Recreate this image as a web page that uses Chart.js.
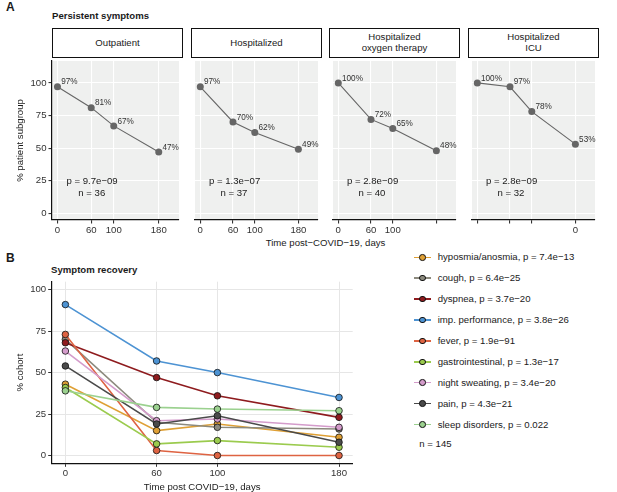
<!DOCTYPE html>
<html><head><meta charset="utf-8">
<script src="https://cdn.jsdelivr.net/npm/chart.js@4.4.1/dist/chart.umd.min.js"></script>
<style>
body{margin:0;background:#fff;font-family:"Liberation Sans",Arial,sans-serif;}
#wrap{position:relative;width:617px;height:492px;overflow:hidden;background:#fff;}
.t{position:absolute;white-space:nowrap;color:#1a1a1a;}
canvas{position:absolute;}
.strip{position:absolute;box-sizing:border-box;border:1.4px solid #111;background:#fff;display:flex;align-items:center;justify-content:center;text-align:center;font-size:9.6px;line-height:10.7px;color:#1a1a1a;}
.leg{position:absolute;font-size:9.6px;color:#1a1a1a;white-space:nowrap;}
.legline{position:absolute;width:17px;height:1.6px;}
.legdot{position:absolute;width:6.6px;height:6.6px;border-radius:50%;box-sizing:border-box;border:0.9px solid #111;}
</style></head>
<body><div id="wrap">
<div class="t" style="left:6px;top:0px;font-size:12px;font-weight:bold;">A</div>
<div class="t" style="left:52px;top:10px;font-size:9.6px;font-weight:bold;">Persistent symptoms</div>
<div class="t" style="left:6px;top:251px;font-size:12px;font-weight:bold;">B</div>
<div class="t" style="left:51px;top:264px;font-size:9.6px;font-weight:bold;">Symptom recovery</div>
<div class="t" id="xtitleA" style="top:237px;font-size:9.6px;">Time post−COVID−19, days</div>
</div>
<script>
// ---------- DATA ----------
const days = [0, 60, 100, 180];
const groupNames = ['Outpatient', 'Hospitalized', 'Hospitalized\noxygen therapy', 'Hospitalized\nICU'];
const persistOutpatient = [97, 81, 67, 47];
const persistHospitalized = [97, 70, 62, 49];
const persistOxygen = [100, 72, 65, 48];
const persistICU = [100, 97, 78, 53];
const pValuesA = ['9.7e−09', '1.3e−07', '2.8e−09', '2.8e−09'];
const nValuesA = [36, 37, 40, 32];
const xTickLabelsA = [['0', '60', '100', '180'], ['0', '60', '100', '180'], ['0', '60', '100', ''], ['', '', '', '0']];
const yTicks = [0, 25, 50, 75, 100];

const symptoms = ['hyposmia/anosmia', 'cough', 'dyspnea', 'imp. performance', 'fever', 'gastrointestinal', 'night sweating', 'pain', 'sleep disorders'];
const pValuesB = ['7.4e−13', '6.4e−25', '3.7e−20', '3.8e−26', '1.9e−91', '1.3e−17', '3.4e−20', '4.3e−21', '0.022'];
const hyposmia = [43, 15, 19, 11];
const cough = [70, 20, 17, 16];
const dyspnea = [68, 47, 36, 23];
const impPerformance = [91, 57, 50, 35];
const fever = [73, 3, 0, 0];
const gastrointestinal = [41, 7, 9, 5];
const nightSweating = [63, 21, 22, 17];
const pain = [54, 19, 24, 8];
const sleepDisorders = [39, 29, 28, 27];
const nCohort = 145;

// ---------- STYLE / LAYOUT ----------
const persistA = [persistOutpatient, persistHospitalized, persistOxygen, persistICU];
const recovery = [hyposmia, cough, dyspnea, impPerformance, fever, gastrointestinal, nightSweating, pain, sleepDisorders];
const colorsB = ['#DFA035', '#8C8A7E', '#8E1B1E', '#4D93D3', '#DE6342', '#9BCB4E', '#D49CCB', '#4A4A4A', '#9BD18F'];
const FONT = '"Liberation Sans", Arial, sans-serif';
Chart.defaults.font.family = FONT;
Chart.defaults.font.size = 9.6;
Chart.defaults.color = '#333';

const wrap = document.getElementById('wrap');
const panelLeft = [52, 191, 329, 468];
const panelW = 131;

function mkCanvas(l, t, w, h) {
  const c = document.createElement('canvas');
  c.width = w; c.height = h;
  c.style.left = l + 'px'; c.style.top = t + 'px';
  c.style.width = w + 'px'; c.style.height = h + 'px';
  wrap.appendChild(c);
  return c;
}
const bgPlugin = color => ({
  id: 'bg',
  beforeDraw(chart) {
    const { ctx, chartArea: a } = chart;
    ctx.save(); ctx.fillStyle = color;
    ctx.fillRect(a.left, a.top, a.right - a.left, a.bottom - a.top);
    ctx.restore();
  }
});

// x title of panel A
const xt = document.getElementById('xtitleA');
xt.style.left = ((panelLeft[0] + panelLeft[3] + panelW) / 2) + 'px';
xt.style.transform = 'translateX(-50%)';

// ---------- PANEL A ----------
groupNames.forEach((name, i) => {
  const left = panelLeft[i];
  const strip = document.createElement('div');
  strip.className = 'strip';
  strip.style.left = left + 'px'; strip.style.top = '28px';
  strip.style.width = panelW + 'px'; strip.style.height = '30px';
  strip.innerHTML = name.split('\n').join('<br>');
  wrap.appendChild(strip);

  const cLeft = i === 0 ? 0 : left;
  const w = left + panelW - cLeft;
  const cv = mkCanvas(cLeft, 57, w, 185);
  const labelPlugin = {
    id: 'lab',
    afterDatasetsDraw(chart) {
      const ctx = chart.ctx;
      const meta = chart.getDatasetMeta(0);
      ctx.save();
      ctx.fillStyle = '#333';
      ctx.textBaseline = 'middle'; ctx.textAlign = 'left';
      ctx.font = '8.2px ' + FONT;
      meta.data.forEach((pt, k) => ctx.fillText(persistA[i][k] + '%', pt.x + 3.7, pt.y - 4.6));
      const xs = chart.scales.x, ys = chart.scales.y;
      ctx.font = '9.6px ' + FONT;
      ctx.fillStyle = '#1a1a1a';
      ctx.fillText('p = ' + pValuesA[i], xs.getPixelForValue(16), ys.getPixelForValue(24.2));
      ctx.fillText('n = ' + nValuesA[i], xs.getPixelForValue(37), ys.getPixelForValue(15));
      ctx.restore();
    }
  };
  new Chart(cv, {
    type: 'line',
    data: { datasets: [{
      data: days.map((d, k) => ({ x: d, y: persistA[i][k] })),
      borderColor: '#666', backgroundColor: '#666', pointBackgroundColor: '#666',
      pointBorderWidth: 0, pointRadius: 3.5, borderWidth: 1.1, clip: false
    }] },
    options: {
      responsive: false, animation: false, events: [],
      layout: { padding: 0 },
      plugins: { legend: { display: false }, tooltip: { enabled: false } },
      scales: {
        x: {
          type: 'linear', min: -9.7, max: 216,
          afterBuildTicks: s => { s.ticks = days.map(v => ({ value: v })); },
          ticks: { callback: (v, idx) => xTickLabelsA[i][idx], autoSkip: false, maxRotation: 0, padding: 1, color: '#333' },
          grid: { color: '#fff', lineWidth: 1.1, tickColor: '#333', tickLength: 3.5 },
          border: { display: true, color: '#111', width: 1.2 },
          afterFit: s => { s.height = 22; s.paddingLeft = 0; s.paddingRight = 0; }
        },
        y: {
          type: 'linear', min: -5.2, max: 116.8,
          afterBuildTicks: s => { s.ticks = yTicks.map(v => ({ value: v })); },
          ticks: { display: i === 0, padding: 2, color: '#333' },
          grid: { color: '#fff', lineWidth: 1.1, tickColor: '#333', tickLength: 3.5, drawTicks: i === 0 },
          border: { display: i === 0, color: '#111', width: 1.2 },
          title: { display: i === 0, text: '% patient subgroup', padding: { top: 15, bottom: 0 }, color: '#1a1a1a' },
          afterFit: s => { s.width = i === 0 ? 52 : 0; s.paddingTop = 0; s.paddingBottom = 0; }
        }
      }
    },
    plugins: [bgPlugin('#EFF0EF'), labelPlugin]
  });
});

// ---------- PANEL B ----------
const cvB = mkCanvas(0, 275, 360, 217);
new Chart(cvB, {
  type: 'line',
  data: { datasets: symptoms.map((name, i) => ({
    label: name + ', p = ' + pValuesB[i],
    data: days.map((d, k) => ({ x: d, y: recovery[i][k] })),
    borderColor: colorsB[i], backgroundColor: colorsB[i], pointBackgroundColor: colorsB[i],
    pointBorderColor: '#111', pointBorderWidth: 0.8, pointRadius: 3.3, borderWidth: 1.6,
    order: symptoms.length - 1 - i, clip: false
  })) },
  options: {
    responsive: false, animation: false, events: [],
    layout: { padding: { top: 6.7, right: 7.3, left: 0, bottom: 0 } },
    plugins: { legend: { display: false }, tooltip: { enabled: false } },
    scales: {
      x: {
        type: 'linear', min: -9, max: 189,
        afterBuildTicks: s => { s.ticks = days.map(v => ({ value: v })); },
        ticks: { callback: v => String(v), autoSkip: false, maxRotation: 0, padding: 1, color: '#333' },
        grid: { color: '#E6E6E6', lineWidth: 1, tickColor: '#333', tickLength: 3.5 },
        border: { display: true, color: '#111', width: 1.2 },
        title: { display: true, text: 'Time post COVID−19, days', padding: 0, color: '#1a1a1a', font: { size: 9.6, lineHeight: 1 } },
        afterFit: s => { s.height = 28.7; s.paddingLeft = 0; s.paddingRight = 0; }
      },
      y: {
        type: 'linear', min: -4.7, max: 104.8,
        afterBuildTicks: s => { s.ticks = yTicks.map(v => ({ value: v })); },
        ticks: { padding: 2, color: '#333' },
        grid: { color: '#E6E6E6', lineWidth: 1, tickColor: '#333', tickLength: 3.5 },
        border: { display: true, color: '#111', width: 1.2 },
        title: { display: true, text: '% cohort', padding: { top: 15, bottom: 0 }, color: '#1a1a1a' },
        afterFit: s => { s.width = 51.7; s.paddingTop = 0; s.paddingBottom = 0; }
      }
    }
  }
});

// legend for panel B
symptoms.forEach((name, i) => {
  const cy = 257.3 + i * 20.9;
  const line = document.createElement('div');
  line.className = 'legline';
  line.style.left = '414px'; line.style.top = (cy - 0.8) + 'px';
  line.style.background = colorsB[i];
  wrap.appendChild(line);
  const dot = document.createElement('div');
  dot.className = 'legdot';
  dot.style.left = (422.5 - 3.3) + 'px'; dot.style.top = (cy - 3.3) + 'px';
  dot.style.background = colorsB[i];
  wrap.appendChild(dot);
  const tx = document.createElement('div');
  tx.className = 'leg';
  tx.style.left = '437.7px'; tx.style.top = (cy - 6) + 'px';
  tx.textContent = name + ', p = ' + pValuesB[i];
  wrap.appendChild(tx);
});
const nTxt = document.createElement('div');
nTxt.className = 'leg';
nTxt.style.left = '419.3px'; nTxt.style.top = (444 - 6) + 'px';
nTxt.textContent = 'n = ' + nCohort;
wrap.appendChild(nTxt);
</script>
</body></html>
